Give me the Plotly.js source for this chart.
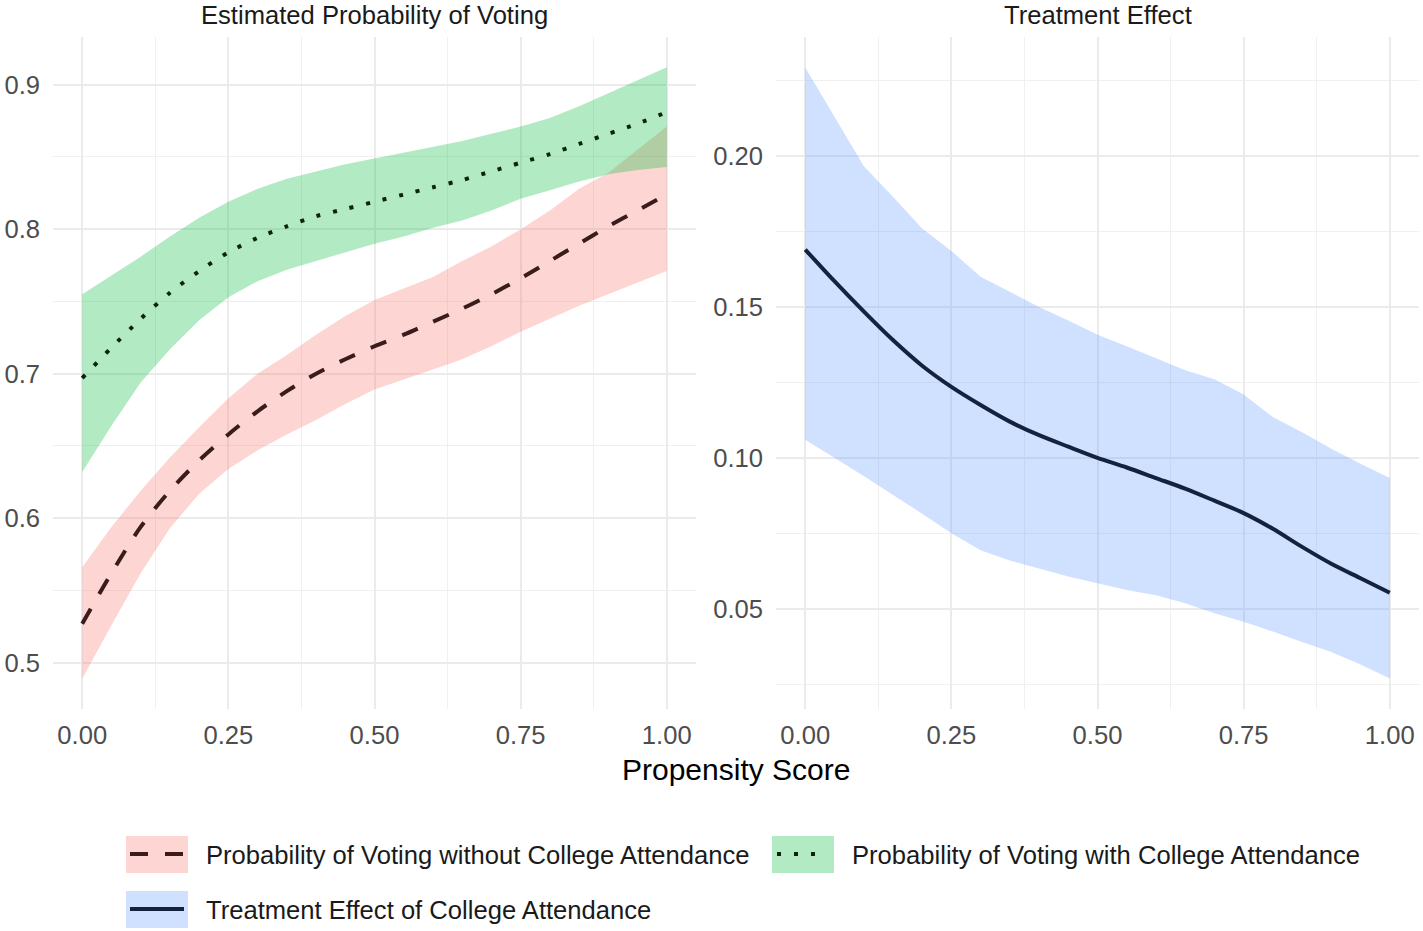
<!DOCTYPE html>
<html>
<head>
<meta charset="utf-8">
<script src="https://cdn.plot.ly/plotly-3.0.1.min.js"></script>
<style>
  html, body { margin: 0; padding: 0; background: #fff; }
  #grafico { width: 1423px; height: 931px; }
</style>
</head>
<body>
<div id="grafico"></div>
<script>
// propensity score grid
const score = [0, 0.05, 0.1, 0.15, 0.2, 0.25, 0.3, 0.35, 0.4, 0.45, 0.5,
               0.55, 0.6, 0.65, 0.7, 0.75, 0.8, 0.85, 0.9, 0.95, 1.0];

// without college attendance (dashed, red ribbon)
const without_fit   = [0.527, 0.562, 0.594, 0.619, 0.640, 0.658, 0.674, 0.688, 0.700, 0.710, 0.719,
                       0.727, 0.736, 0.745, 0.755, 0.766, 0.778, 0.790, 0.802, 0.813, 0.824];
const without_lower = [0.489, 0.526, 0.562, 0.593, 0.617, 0.634, 0.647, 0.658, 0.668, 0.679, 0.689,
                       0.696, 0.703, 0.710, 0.719, 0.729, 0.738, 0.747, 0.755, 0.763, 0.771];
const without_upper = [0.566, 0.594, 0.619, 0.642, 0.663, 0.683, 0.700, 0.713, 0.727, 0.740, 0.751,
                       0.759, 0.767, 0.778, 0.788, 0.800, 0.813, 0.828, 0.839, 0.855, 0.871];

// with college attendance (dotted, green ribbon)
const with_fit   = [0.697, 0.718, 0.738, 0.756, 0.771, 0.784, 0.794, 0.802, 0.809, 0.814, 0.819,
                    0.824, 0.829, 0.834, 0.840, 0.846, 0.852, 0.859, 0.866, 0.873, 0.881];
const with_lower = [0.632, 0.664, 0.694, 0.717, 0.737, 0.753, 0.764, 0.772, 0.778, 0.784, 0.790,
                    0.795, 0.801, 0.806, 0.813, 0.821, 0.827, 0.833, 0.838, 0.841, 0.843];
const with_upper = [0.755, 0.768, 0.781, 0.795, 0.808, 0.819, 0.828, 0.835, 0.840, 0.845, 0.849,
                    0.853, 0.857, 0.861, 0.866, 0.871, 0.877, 0.885, 0.894, 0.903, 0.912];

// treatment effect (solid, blue ribbon)
const effect_fit   = [0.1690, 0.1585, 0.1485, 0.1390, 0.1305, 0.1235, 0.1175, 0.1120, 0.1075, 0.1037, 0.1000,
                      0.0968, 0.0933, 0.0898, 0.0858, 0.0817, 0.0765, 0.0705, 0.0649, 0.0601, 0.0553];
const effect_lower = [0.1060, 0.1000, 0.0940, 0.0878, 0.0815, 0.0750, 0.0694, 0.0660, 0.0633, 0.0607, 0.0584,
                      0.0562, 0.0545, 0.0518, 0.0485, 0.0457, 0.0425, 0.0390, 0.0357, 0.0315, 0.0269];
const effect_upper = [0.2293, 0.2130, 0.1967, 0.1865, 0.1760, 0.1685, 0.1600, 0.1550, 0.1500, 0.1455, 0.1408,
                      0.1370, 0.1330, 0.1290, 0.1260, 0.1210, 0.1135, 0.1085, 0.1030, 0.0980, 0.0933];

const xTicks = [0, 0.25, 0.5, 0.75, 1];
const xTickText = ["0.00", "0.25", "0.50", "0.75", "1.00"];
const yTicksLeft = [0.5, 0.6, 0.7, 0.8, 0.9];
const yTicksRight = [0.05, 0.10, 0.15, 0.20];

const legendLabels = [
    "Probability of Voting without College Attendance",
    "Probability of Voting with College Attendance",
    "Treatment Effect of College Attendance"
];

const W = 1423, H = 931;
const FILL_RED = "rgba(248,118,109,0.3)";
const FILL_GREEN = "rgba(0,186,56,0.3)";
const FILL_BLUE = "rgba(97,156,255,0.3)";
const LINE_RED = "#3a1c1c";
const LINE_GREEN = "#0b2410";
const LINE_BLUE = "#15223d";
const DASH = "17px,17px";
const DOT = "4px,13px";

function ribbon(lo, hi, color, xa, ya) {
    return {
        x: score.concat(score.slice().reverse()),
        y: hi.concat(lo.slice().reverse()),
        xaxis: xa, yaxis: ya,
        type: "scatter", mode: "lines",
        fill: "toself", fillcolor: color,
        line: { width: 0 },
        hoverinfo: "skip", showlegend: false
    };
}

function curve(y, color, dash, xa, ya) {
    return {
        x: score, y: y,
        xaxis: xa, yaxis: ya,
        type: "scatter", mode: "lines",
        line: { color: color, width: 4, dash: dash, shape: "spline", smoothing: 0.8 },
        showlegend: false
    };
}

const traces = [
    ribbon(without_lower, without_upper, FILL_RED, "x", "y"),
    ribbon(with_lower, with_upper, FILL_GREEN, "x", "y"),
    curve(without_fit, LINE_RED, DASH, "x", "y"),
    curve(with_fit, LINE_GREEN, DOT, "x", "y"),
    ribbon(effect_lower, effect_upper, FILL_BLUE, "x2", "y2"),
    curve(effect_fit, LINE_BLUE, "solid", "x2", "y2")
];

// pixel -> paper helpers
const px = v => v / W;
const py = v => 1 - v / H;

const gridStyle = {
    showgrid: true, gridcolor: "#ebebeb", gridwidth: 2,
    zeroline: false, showline: false, ticks: "",
    tickfont: { size: 25.6, color: "#4d4d4d" }
};

const xBase = Object.assign({}, gridStyle, {
    range: [-0.05, 1.05],
    tickvals: xTicks, ticktext: xTickText,
    ticklabelstandoff: 8,
    minor: { dtick: 0.125, tick0: 0, showgrid: true, gridcolor: "#f0f0f0", gridwidth: 1 }
});

const yDomain = [py(709), py(37)];

const layout = {
    width: W, height: H,
    margin: { l: 0, r: 0, t: 0, b: 0 },
    paper_bgcolor: "#fff", plot_bgcolor: "#fff",
    font: { family: "Liberation Sans, Arial, sans-serif", size: 25.6, color: "#1a1a1a" },
    showlegend: false,
    xaxis: Object.assign({}, xBase, { domain: [px(53), px(696)], anchor: "y" }),
    xaxis2: Object.assign({}, xBase, { domain: [px(776), px(1419)], anchor: "y2" }),
    yaxis: Object.assign({}, gridStyle, {
        domain: yDomain, anchor: "x",
        range: [0.468, 0.933],
        tickvals: yTicksLeft, tickformat: ".1f",
        ticklabelstandoff: 12,
        minor: { dtick: 0.05, tick0: 0, showgrid: true, gridcolor: "#f0f0f0", gridwidth: 1 }
    }),
    yaxis2: Object.assign({}, gridStyle, {
        domain: yDomain, anchor: "x2",
        range: [0.0168, 0.2394],
        tickvals: yTicksRight, tickformat: ".2f",
        ticklabelstandoff: 12,
        minor: { dtick: 0.025, tick0: 0, showgrid: true, gridcolor: "#f0f0f0", gridwidth: 1 }
    }),
    annotations: [
        { text: "Estimated Probability of Voting", xref: "x domain", x: 0.5, yref: "paper", y: py(15),
          yanchor: "middle", borderpad: 0, showarrow: false, font: { size: 25.6, color: "#1a1a1a" } },
        { text: "Treatment Effect", xref: "x2 domain", x: 0.5, yref: "paper", y: py(15),
          yanchor: "middle", borderpad: 0, showarrow: false, font: { size: 25.6, color: "#1a1a1a" } },
        { text: "Propensity Score", xref: "paper", x: px(736), yref: "paper", y: py(769),
          yanchor: "middle", showarrow: false, font: { size: 30, color: "#000" } },
        { text: legendLabels[0], xref: "paper", x: px(204), xanchor: "left", yref: "paper", y: py(855),
          yanchor: "middle", showarrow: false, font: { size: 25.6, color: "#1a1a1a" } },
        { text: legendLabels[1], xref: "paper", x: px(850), xanchor: "left", yref: "paper", y: py(855),
          yanchor: "middle", showarrow: false, font: { size: 25.6, color: "#1a1a1a" } },
        { text: legendLabels[2], xref: "paper", x: px(204), xanchor: "left", yref: "paper", y: py(910),
          yanchor: "middle", showarrow: false, font: { size: 25.6, color: "#1a1a1a" } }
    ],
    // legend keys drawn by hand, ggplot style (filled box with line)
    shapes: [
        { type: "rect", xref: "paper", yref: "paper", x0: px(126), x1: px(188), y0: py(836), y1: py(873),
          fillcolor: FILL_RED, line: { width: 0 } },
        { type: "line", xref: "paper", yref: "paper", x0: px(130), x1: px(183), y0: py(854), y1: py(854),
          line: { color: LINE_RED, width: 4, dash: "18px,17px" } },
        { type: "rect", xref: "paper", yref: "paper", x0: px(772), x1: px(834), y0: py(836), y1: py(873),
          fillcolor: FILL_GREEN, line: { width: 0 } },
        { type: "line", xref: "paper", yref: "paper", x0: px(777), x1: px(815), y0: py(854), y1: py(854),
          line: { color: LINE_GREEN, width: 4, dash: DOT } },
        { type: "rect", xref: "paper", yref: "paper", x0: px(126), x1: px(188), y0: py(891), y1: py(928),
          fillcolor: FILL_BLUE, line: { width: 0 } },
        { type: "line", xref: "paper", yref: "paper", x0: px(130), x1: px(184), y0: py(909), y1: py(909),
          line: { color: LINE_BLUE, width: 4 } }
    ]
};

Plotly.newPlot("grafico", traces, layout, { displayModeBar: false, staticPlot: true });
</script>
</body>
</html>
